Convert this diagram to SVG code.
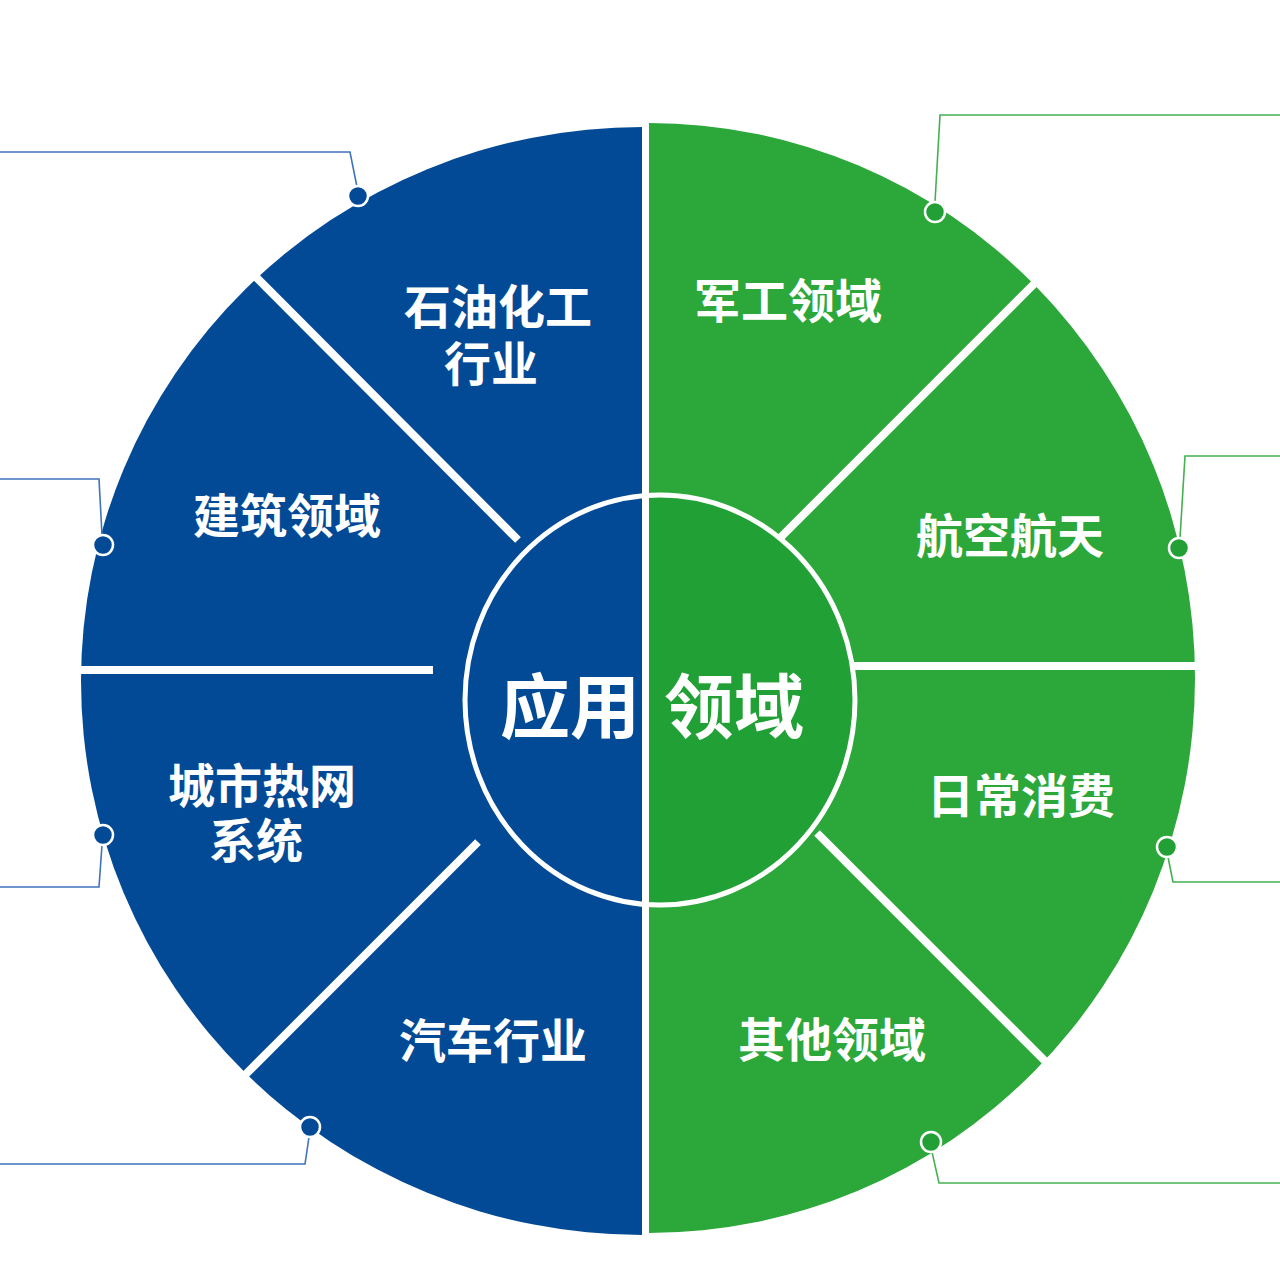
<svg xmlns="http://www.w3.org/2000/svg" width="1280" height="1280" viewBox="0 0 1280 1280">
<defs>
<style>
.lbl{font-family:"Noto Sans CJK SC","Noto Sans",sans-serif;font-weight:700;font-size:47px;fill:#ffffff;text-anchor:middle}
.ctr{font-family:"Noto Sans CJK SC","Noto Sans",sans-serif;font-weight:700;font-size:70px;fill:#ffffff;text-anchor:middle}
.sep{stroke:#ffffff;stroke-width:8;fill:none}
.cb{stroke:#3f73ba;stroke-width:1.6;fill:none}
.cg{stroke:#45b052;stroke-width:1.6;fill:none}
.db{fill:#034a96;stroke:#ffffff;stroke-width:2.5}
.dg{fill:#22a036;stroke:#ffffff;stroke-width:2.5}
</style>
<clipPath id="leftClip"><rect x="0" y="0" width="645" height="1280"/></clipPath>
</defs>
<rect width="1280" height="1280" fill="#ffffff"/>
<g id="wheel">
<path d="M642,127 A561,554 0 0 0 642,1235 Z" fill="#034a96"/>
<path d="M649,123 A546,555 0 0 1 649,1233 Z" fill="#2ca73a"/>
<line class="sep" x1="70" y1="670" x2="433" y2="670" stroke-width="9"/>
<line class="sep" x1="850" y1="666" x2="1205" y2="666" stroke-width="9"/>
<line class="sep" x1="518" y1="540" x2="250" y2="271"/>
<line class="sep" x1="478" y1="842" x2="240" y2="1080"/>
<line class="sep" x1="780" y1="538" x2="1036" y2="282"/>
<line class="sep" x1="817" y1="833" x2="1048" y2="1064"/>
</g>
<g id="center">
<ellipse cx="660" cy="700" rx="195" ry="205" fill="#20a035"/>
<ellipse cx="660" cy="700" rx="195" ry="205" fill="#034a96" clip-path="url(#leftClip)"/>
<rect x="642" y="490" width="7" height="420" fill="#ffffff"/>
<ellipse cx="660" cy="700" rx="195" ry="205" fill="none" stroke="#ffffff" stroke-width="5"/>
<text class="ctr" x="570" y="733">应用</text>
<text class="ctr" x="734" y="733">领域</text>
</g>
<g id="node-petrochem"><text class="lbl"><tspan x="498" y="324">石油化工</tspan><tspan x="491" y="381">行业</tspan></text></g>
<g id="node-building"><text class="lbl" x="287" y="533">建筑领域</text></g>
<g id="node-heating"><text class="lbl"><tspan x="262" y="803">城市热网</tspan><tspan x="256" y="858">系统</tspan></text></g>
<g id="node-auto"><text class="lbl" x="493" y="1058">汽车行业</text></g>
<g id="node-military"><text class="lbl" x="788" y="318">军工领域</text></g>
<g id="node-aerospace"><text class="lbl" x="1010" y="553">航空航天</text></g>
<g id="node-consumer"><text class="lbl" x="1021" y="813">日常消费</text></g>
<g id="node-other"><text class="lbl" x="832" y="1057">其他领域</text></g>
<g id="connectors">
<polyline class="cb" points="0,152 350,152 357,187"/>
<polyline class="cb" points="0,479 99,479 102,535"/>
<polyline class="cb" points="0,887 99,887 102,845"/>
<polyline class="cb" points="0,1164 305,1164 309,1137"/>
<polyline class="cg" points="1280,115 940,115 935,202"/>
<polyline class="cg" points="1280,456 1185,456 1180,538"/>
<polyline class="cg" points="1280,882 1173,882 1168,857"/>
<polyline class="cg" points="1280,1183 939,1183 932,1152"/>
<circle class="db" cx="358" cy="196" r="10"/>
<circle class="db" cx="103" cy="545" r="10"/>
<circle class="db" cx="103" cy="835" r="10"/>
<circle class="db" cx="310" cy="1127" r="10"/>
<circle class="dg" cx="935" cy="212" r="10"/>
<circle class="dg" cx="1179" cy="548" r="10"/>
<circle class="dg" cx="1167" cy="847" r="10"/>
<circle class="dg" cx="931" cy="1142" r="10"/>
</g>
</svg>
